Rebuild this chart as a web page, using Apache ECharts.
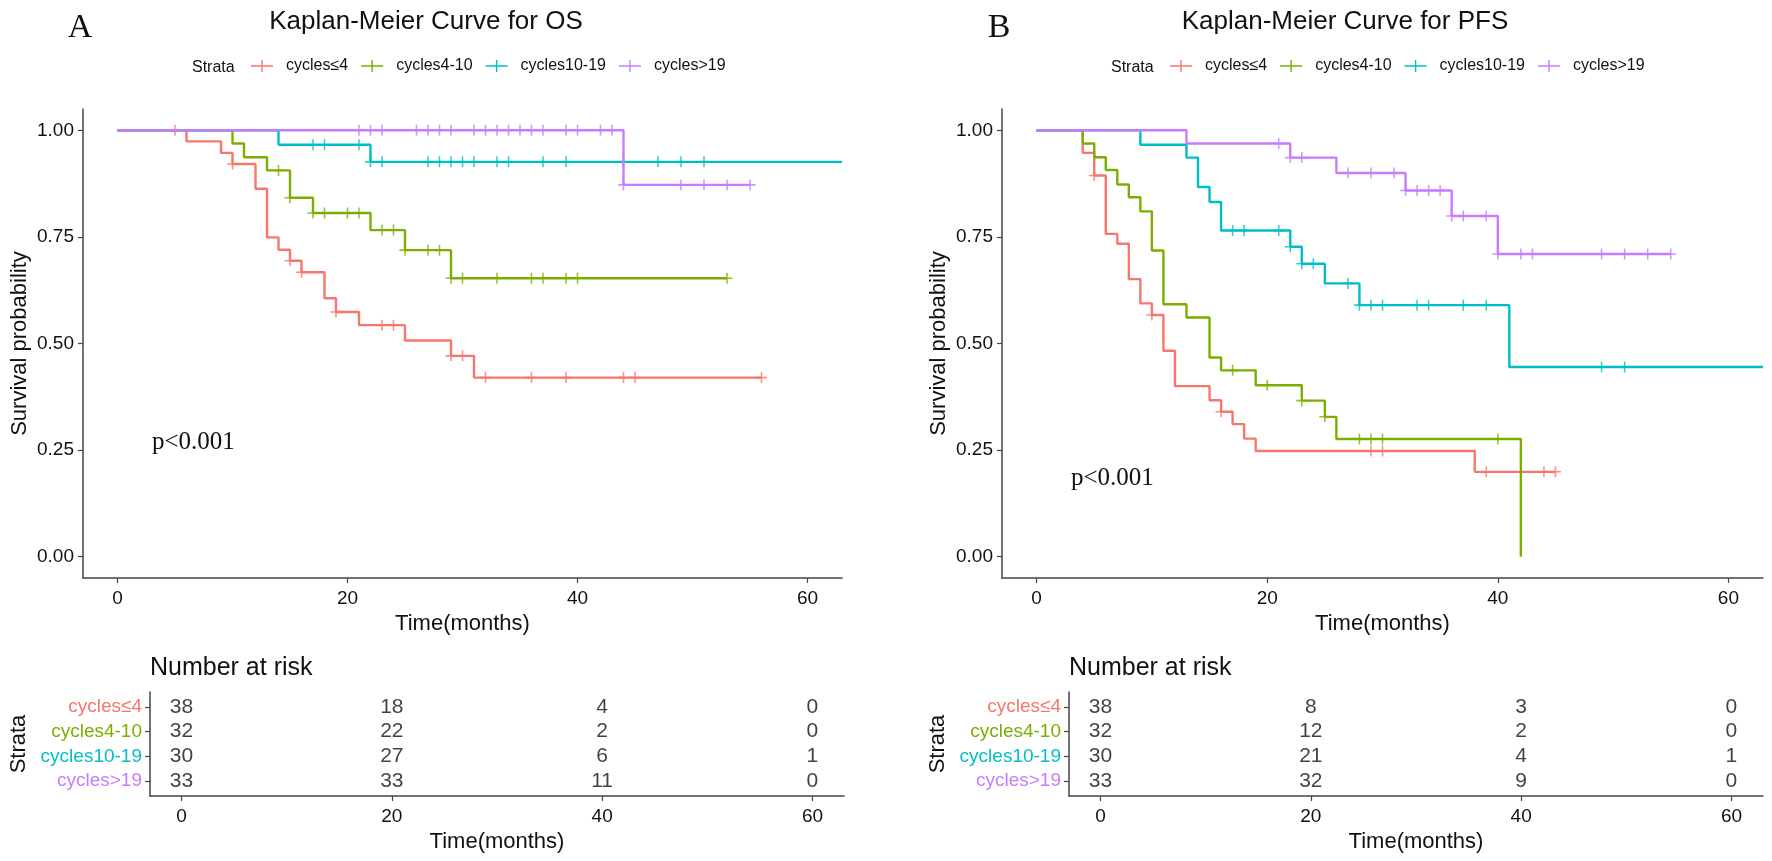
<!DOCTYPE html>
<html>
<head>
<meta charset="utf-8">
<script src="https://cdn.jsdelivr.net/npm/echarts@6/dist/echarts.min.js"></script>
<style>
  html, body { margin: 0; padding: 0; background: #fff; }
  #chart { width: 1772px; height: 861px; }
</style>
</head>
<body>
<div id="chart"></div>
<script>
// strata and colours (ggplot default hue)
var strata = ['cycles≤4', 'cycles4-10', 'cycles10-19', 'cycles>19'];
var colors = ['#F8766D', '#7CAE00', '#00BFC4', '#C77CFF'];
var tickMonths = [0, 20, 40, 60];
var riskMonths = [0, 20, 40, 60];

// ---- OS (panel A) ----
var osLe4Time = [0, 6, 9, 10, 12, 13, 14, 15, 16, 18, 19, 21, 25, 29, 31];
var osLe4Surv = [1, 0.974, 0.947, 0.921, 0.863, 0.749, 0.720, 0.694, 0.667, 0.606, 0.574, 0.543, 0.507, 0.471, 0.420];
var osLe4Cens = [5, 10, 15, 16, 19, 23, 24, 29, 30, 32, 36, 39, 44, 45, 56];
var osLe4End = 56;

var os4to10Time = [0, 10, 11, 13, 15, 17, 22, 25, 29];
var os4to10Surv = [1, 0.969, 0.937, 0.906, 0.842, 0.806, 0.766, 0.719, 0.653];
var os4to10Cens = [14, 15, 17, 18, 20, 21, 23, 24, 25, 27, 28, 29, 30, 33, 36, 37, 39, 40, 53];
var os4to10End = 53;

var os10to19Time = [0, 14, 22];
var os10to19Surv = [1, 0.966, 0.926];
var os10to19Cens = [17, 18, 21, 22, 23, 27, 28, 29, 30, 31, 33, 34, 37, 39, 44, 47, 49, 51];
var os10to19End = 63;

var osGt19Time = [0, 44];
var osGt19Surv = [1, 0.872];
var osGt19Cens = [21, 22, 23, 26, 27, 28, 29, 31, 32, 33, 34, 35, 36, 37, 39, 40, 42, 43, 44, 49, 51, 53, 55];
var osGt19End = 55;

var osRisk = [[38, 18, 4, 0], [32, 22, 2, 0], [30, 27, 6, 1], [33, 33, 11, 0]];

// ---- PFS (panel B) ----
var pfsLe4Time = [0, 4, 5, 6, 7, 8, 9, 10, 11, 12, 15, 16, 17, 18, 19, 38];
var pfsLe4Surv = [1, 0.947, 0.894, 0.757, 0.734, 0.651, 0.594, 0.567, 0.483, 0.400, 0.367, 0.340, 0.311, 0.277, 0.248, 0.199];
var pfsLe4Cens = [5, 10, 16, 29, 30, 39, 44, 45];
var pfsLe4End = 45;

var pfs4to10Time = [0, 4, 5, 6, 7, 8, 9, 10, 11, 13, 15, 16, 19, 23, 25, 26, 42];
var pfs4to10Surv = [1, 0.969, 0.937, 0.907, 0.873, 0.843, 0.810, 0.718, 0.592, 0.561, 0.467, 0.437, 0.402, 0.366, 0.328, 0.276, 0];
var pfs4to10Cens = [17, 20, 23, 25, 28, 29, 30, 40];
var pfs4to10End = 42;

var pfs10to19Time = [0, 9, 13, 14, 15, 16, 22, 23, 25, 28, 41];
var pfs10to19Surv = [1, 0.966, 0.936, 0.867, 0.832, 0.765, 0.727, 0.687, 0.641, 0.590, 0.445];
var pfs10to19Cens = [17, 18, 21, 22, 23, 24, 27, 28, 29, 30, 33, 34, 37, 39, 49, 51];
var pfs10to19End = 63;

var pfsGt19Time = [0, 13, 22, 26, 32, 36, 40];
var pfsGt19Surv = [1, 0.969, 0.936, 0.900, 0.859, 0.799, 0.710];
var pfsGt19Cens = [21, 22, 23, 27, 29, 31, 32, 33, 34, 35, 36, 37, 39, 40, 42, 43, 49, 51, 53, 55];
var pfsGt19End = 55;

var pfsRisk = [[38, 8, 3, 0], [32, 12, 2, 0], [30, 21, 4, 1], [33, 32, 9, 0]];

var osCurves = [
    [osLe4Time, osLe4Surv, osLe4Cens, osLe4End],
    [os4to10Time, os4to10Surv, os4to10Cens, os4to10End],
    [os10to19Time, os10to19Surv, os10to19Cens, os10to19End],
    [osGt19Time, osGt19Surv, osGt19Cens, osGt19End]
];
var pfsCurves = [
    [pfsLe4Time, pfsLe4Surv, pfsLe4Cens, pfsLe4End],
    [pfs4to10Time, pfs4to10Surv, pfs4to10Cens, pfs4to10End],
    [pfs10to19Time, pfs10to19Surv, pfs10to19Cens, pfs10to19End],
    [pfsGt19Time, pfsGt19Surv, pfsGt19Cens, pfsGt19End]
];

var FONT = 'Liberation Sans, Arial, sans-serif';
var SERIF = 'Liberation Serif, Times New Roman, serif';
var plusPath = 'path://M4.3,0H5.7V10H4.3Z M0,4.3H10V5.7H0Z';
var legendIcon = 'path://M0,6.3H22V7.7H0Z M10.3,1H11.7V13H10.3Z';

// survival value at time t (step function)
function survAt(time, surv, t) {
    var v = surv[0];
    for (var i = 0; i < time.length; i++) {
        if (time[i] <= t) v = surv[i];
    }
    return v;
}

var series = [];
function addPanel(curves, risk, axisMain, axisRisk) {
    curves.forEach(function (c, k) {
        var time = c[0], surv = c[1], cens = c[2], end = c[3];
        var pts = time.map(function (t, i) { return [t, surv[i]]; });
        pts.push([end, surv[surv.length - 1]]);
        series.push({
            name: strata[k], type: 'line', step: 'end',
            xAxisIndex: axisMain, yAxisIndex: axisMain,
            data: pts, showSymbol: false, color: colors[k],
            lineStyle: { width: 2.4, color: colors[k] },
            z: 2 + k
        });
        series.push({
            name: strata[k], type: 'scatter',
            xAxisIndex: axisMain, yAxisIndex: axisMain,
            data: cens.map(function (t) { return [t, survAt(time, surv, t)]; }),
            symbol: plusPath, symbolSize: 11, color: colors[k],
            itemStyle: { color: colors[k] },
            z: 2 + k
        });
    });
    // number at risk cells
    var cells = [];
    risk.forEach(function (row, k) {
        row.forEach(function (n, j) {
            cells.push([riskMonths[j], 4 - k, n]);
        });
    });
    series.push({
        name: 'risk', type: 'scatter',
        xAxisIndex: axisRisk, yAxisIndex: axisRisk,
        data: cells, symbolSize: 2, itemStyle: { color: 'rgba(0,0,0,0)' },
        label: {
            show: true, position: 'inside', fontFamily: FONT, fontSize: 21, color: '#111',
            formatter: function (p) { return String(p.value[2]); }
        },
        labelLayout: { hideOverlap: false }
    });
}
addPanel(osCurves, osRisk, 0, 1);
addPanel(pfsCurves, pfsRisk, 2, 3);

var axisLine = { show: true, onZero: false, lineStyle: { color: '#444', width: 1.5 } };
var axisTick = { show: true, length: 5, lineStyle: { color: '#444', width: 1.2 } };

function mainX(grid) {
    return {
        type: 'value', gridIndex: grid, min: -3, max: 63,
        axisLine: axisLine, splitLine: { show: false },
        axisTick: Object.assign({ customValues: tickMonths }, axisTick),
        axisLabel: { customValues: tickMonths, fontFamily: FONT, fontSize: 19, color: '#111', margin: 11 },
        name: 'Time(months)', nameLocation: 'middle', nameGap: 35,
        nameTextStyle: { fontFamily: FONT, fontSize: 22, color: '#111' }
    };
}
function mainY(grid) {
    return {
        type: 'value', gridIndex: grid, min: -0.05, max: 1.05,
        axisLine: axisLine, splitLine: { show: false },
        axisTick: Object.assign({ customValues: [0, 0.25, 0.5, 0.75, 1] }, axisTick),
        axisLabel: {
            customValues: [0, 0.25, 0.5, 0.75, 1], fontFamily: FONT, fontSize: 19, color: '#111', margin: 9,
            formatter: function (v) { return v.toFixed(2); }
        },
        name: 'Survival probability', nameLocation: 'middle', nameGap: 52,
        nameTextStyle: { fontFamily: FONT, fontSize: 22, color: '#111' }
    };
}
var rich = {};
strata.forEach(function (s, k) { rich['c' + k] = { color: colors[k], fontFamily: FONT, fontSize: 19 }; });
function riskX(grid) {
    var ax = mainX(grid);
    ax.nameGap = 35;
    return ax;
}
function riskY(grid) {
    return {
        type: 'value', gridIndex: grid, min: 0.4, max: 4.6,
        axisLine: axisLine, splitLine: { show: false },
        axisTick: Object.assign({ customValues: [1, 2, 3, 4] }, axisTick),
        axisLabel: {
            customValues: [1, 2, 3, 4], margin: 8, rich: rich,
            formatter: function (v) { var k = 4 - Math.round(v); return '{c' + k + '|' + strata[k] + '}'; }
        },
        name: 'Strata', nameLocation: 'middle', nameGap: 120, nameRotate: 90,
        nameTextStyle: { fontFamily: FONT, fontSize: 22, color: '#111' }
    };
}

function txt(x, y, s, font, align) {
    return {
        type: 'text', x: x, y: y,
        style: { text: s, font: font, fill: '#111', textAlign: align || 'left', textVerticalAlign: 'middle', align: align || 'left', verticalAlign: 'middle' }
    };
}

function legendAt(left) {
    return {
        left: left, top: 53, data: strata, icon: legendIcon,
        itemWidth: 22, itemHeight: 14, itemGap: 13,
        textStyle: { fontFamily: FONT, fontSize: 16, color: '#111', padding: [0, 0, 0, 8] }
    };
}

var dx = 919;
var mychart = echarts.init(document.getElementById('chart'));
var option = {
    animation: false,
    backgroundColor: '#fff',
    grid: [
        { left: 83, top: 109, width: 759, height: 469, outerBoundsMode: 'none' },
        { left: 150, top: 692, width: 694, height: 104, outerBoundsMode: 'none' },
        { left: 83 + dx, top: 109, width: 761, height: 469, outerBoundsMode: 'none' },
        { left: 150 + dx, top: 692, width: 694, height: 104, outerBoundsMode: 'none' }
    ],
    xAxis: [mainX(0), riskX(1), mainX(2), riskX(3)],
    yAxis: [mainY(0), riskY(1), mainY(2), riskY(3)],
    legend: [legendAt(246), legendAt(246 + dx)],
    graphic: [
        txt(80, 28, 'A', 'normal 34px ' + SERIF, 'center'),
        txt(80 + dx, 28, 'B', 'normal 34px ' + SERIF, 'center'),
        txt(426, 22, 'Kaplan-Meier Curve for OS', 'normal 26px ' + FONT, 'center'),
        txt(426 + dx, 22, 'Kaplan-Meier Curve for PFS', 'normal 26px ' + FONT, 'center'),
        txt(192, 68, 'Strata', 'normal 16px ' + FONT),
        txt(192 + dx, 68, 'Strata', 'normal 16px ' + FONT),
        txt(150, 668, 'Number at risk', 'normal 25px ' + FONT),
        txt(150 + dx, 668, 'Number at risk', 'normal 25px ' + FONT),
        txt(152, 442, 'p<0.001', 'normal 25px ' + SERIF),
        txt(152 + dx, 478, 'p<0.001', 'normal 25px ' + SERIF)
    ],
    series: series
};
mychart.setOption(option);
</script>
</body>
</html>
